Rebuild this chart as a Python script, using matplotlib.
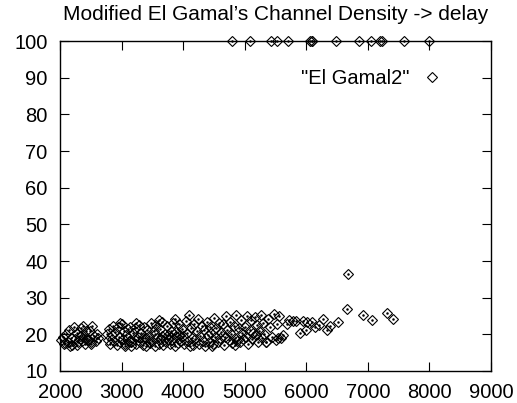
import matplotlib
matplotlib.use("Agg")
import matplotlib.pyplot as plt

plt.rcParams['font.family'] = ['Liberation Sans', 'DejaVu Sans']

# channel density -> delay
density = [
    # 2000-2650
    2020, 2050, 2080, 2100, 2130, 2150, 2180, 2200, 2230, 2250, 2270, 2300,
    2320, 2340, 2360, 2380, 2400, 2420, 2440, 2460, 2480, 2500, 2520, 2550,
    2580, 2600, 2620, 2060, 2160, 2280, 2350, 2430, 2510,
    # 2700-3300
    2760, 2780, 2790, 2810, 2840, 2860, 2880, 2900, 2920, 2940, 2960, 2980,
    3000, 3020, 3040, 3060, 3080, 3100, 3120, 3140, 3160, 3180, 3200, 3220,
    3240, 3260, 3280, 3300, 2980, 3050, 3150, 3230,
    # 3300-4000
    3320, 3340, 3360, 3380, 3400, 3420, 3440, 3460, 3480, 3500, 3520, 3540,
    3560, 3580, 3600, 3620, 3640, 3660, 3680, 3700, 3720, 3740, 3760, 3780,
    3800, 3820, 3840, 3860, 3880, 3900, 3920, 3940, 3960, 3980, 4000, 3350,
    3450, 3550, 3650, 3750, 3850, 3950, 3610, 3870,
    # 4000-5000
    4020, 4040, 4060, 4080, 4100, 4120, 4140, 4160, 4180, 4200, 4220, 4240,
    4260, 4280, 4300, 4320, 4340, 4360, 4380, 4400, 4420, 4440, 4460, 4480,
    4500, 4520, 4540, 4560, 4580, 4600, 4620, 4640, 4660, 4680, 4700, 4720,
    4740, 4760, 4780, 4800, 4820, 4840, 4860, 4880, 4900, 4920, 4940, 4960,
    4980, 4110, 4470, 4850,
    # 5000-5600
    5000, 5020, 5040, 5060, 5080, 5100, 5120, 5140, 5160, 5180, 5200, 5220,
    5240, 5260, 5280, 5300, 5320, 5350, 5380, 5410, 5440, 5470, 5500, 5530,
    5560, 5590,
    # 5600-6550
    5626, 5680, 5720, 5787, 5831, 5896, 5950, 5994, 6010, 6086, 6140, 6200,
    6275, 6330, 6380, 6518, 5544, 5344,
    # stragglers
    6654, 6670, 6924, 7060, 7313, 7410,
    # saturated at 100
    4792, 5084, 5425, 5523, 5701, 6058, 6091, 6100, 6481, 6854, 7049, 7195,
    7227, 7584, 7990,
]
delay = [
    18.5, 19.2, 17.6, 20.1, 18.0, 21.3, 19.0, 17.2, 22.0, 18.7, 20.5, 17.8,
    19.6, 21.8, 18.2, 22.4, 17.5, 20.8, 19.1, 18.4, 21.0, 17.9, 22.3, 19.5,
    18.1, 20.2, 19.0, 17.3, 16.9, 17.0, 19.9, 18.8, 17.4,
    20.0, 18.5, 21.5, 17.4, 19.8, 22.4, 18.1, 20.6, 17.2, 21.9, 19.3, 17.8,
    22.8, 18.6, 20.9, 17.5, 19.7, 21.4, 18.2, 22.1, 17.9, 20.3, 18.8, 21.7,
    17.3, 19.4, 22.5, 18.0, 23.0, 16.8, 16.9, 23.2,
    20.5, 17.2, 22.0, 18.9, 16.8, 21.2, 19.6, 17.7, 23.1, 18.3, 20.8, 16.9,
    22.6, 19.1, 17.4, 21.5, 18.6, 23.4, 17.0, 20.2, 18.0, 22.3, 19.8, 17.3,
    21.0, 18.5, 23.0, 16.9, 20.6, 19.2, 17.6, 22.8, 18.2, 21.4, 19.5, 19.0,
    18.0, 20.0, 19.5, 18.8, 20.1, 19.9, 24.0, 24.2,
    17.3, 23.6, 20.4, 18.1, 25.3, 21.7, 19.0, 17.0, 22.9, 18.7, 20.9, 24.1,
    17.5, 19.6, 22.2, 18.3, 21.1, 16.9, 23.4, 19.9, 18.0, 22.0, 20.3, 17.4,
    24.4, 19.2, 21.6, 17.8, 23.0, 18.9, 20.7, 22.7, 17.2, 19.4, 24.9, 21.3,
    18.4, 23.3, 20.0, 17.6, 22.4, 19.1, 25.2, 18.2, 21.8, 17.9, 23.8, 20.5,
    18.8, 16.8, 16.7, 17.0,
    22.1, 19.3, 25.0, 17.5, 21.2, 23.9, 18.6, 20.4, 24.6, 19.7, 22.6, 17.9,
    21.0, 25.4, 18.9, 23.1, 20.2, 18.0, 24.3, 21.9, 19.4, 25.6, 18.4, 22.7,
    25.1, 19.0,
    19.8, 22.8, 24.0, 23.7, 23.7, 20.3, 23.7, 21.2, 23.4, 23.4, 22.1, 22.6,
    24.1, 21.2, 22.4, 23.4, 18.9, 18.0,
    27.0, 36.4, 25.3, 23.9, 25.7, 24.2,
    100, 100, 100, 100, 100, 100, 100, 100, 100, 100, 100, 100,
    100, 100, 100,
]

x_ticks = [2000, 3000, 4000, 5000, 6000, 7000, 8000, 9000]
y_ticks = [10, 20, 30, 40, 50, 60, 70, 80, 90, 100]

fig = plt.figure(figsize=(5.17, 4.03), dpi=100)
ax = fig.add_axes([60 / 517, 1 - 371 / 403, 431 / 517, 330 / 403])

ax.plot(density, delay, linestyle='none', marker='D', markersize=5.2,
        markerfacecolor='none', markeredgecolor='black', markeredgewidth=0.8,
        clip_on=False, label='"El Gamal2"')
ax.plot(density, delay, linestyle='none', marker='o', markersize=0.8,
        color='black', clip_on=False)

ax.set_xlim(2000, 9000)
ax.set_ylim(10, 100)
ax.set_xticks(x_ticks)
ax.set_yticks(y_ticks)
ax.tick_params(direction='in', length=6.5, width=0.8, labelsize=14.5,
               top=True, right=True, pad=9)
for s in ax.spines.values():
    s.set_linewidth(1.0)

ax.set_title("Modified El Gamal\u2019s Channel Density -> delay", fontsize=15, pad=15)
ax.legend(loc='upper right', bbox_to_anchor=(0.905, 0.94), frameon=False,
          markerfirst=False, fontsize=14.5, handlelength=1.0, handletextpad=0.6,
          borderaxespad=0)

fig.savefig('out.png', dpi=100)
